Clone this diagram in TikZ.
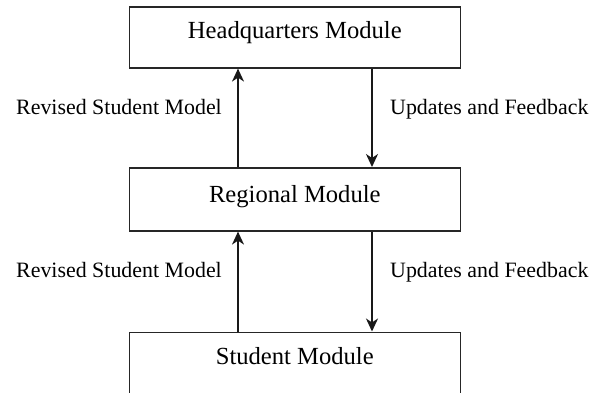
\documentclass[tikz,border=0pt]{standalone}
\usepackage{fontspec}
\setmainfont{Liberation Serif}
\usetikzlibrary{arrows.meta}
\begin{document}
\begin{tikzpicture}[x=1pt,y=-1pt,
  modbox/.style={draw=black!85, line width=1.6pt, minimum width=331pt, inner sep=0pt,
    font=\fontsize{24.6}{28}\selectfont, anchor=north west},
  lbl/.style={font=\fontsize{21.9}{26}\selectfont, anchor=base west, inner sep=0pt},
  conn/.style={line width=1.6pt, draw=black!90, -{Stealth[length=13pt,width=12pt,inset=4pt]}}
]
\useasboundingbox (0,0) rectangle (592,392);
% boxes
\node[modbox, minimum height=61pt, text height=13.5pt, text depth=10.5pt] (hq) at (128.5,6) {Headquarters Module};
\node[modbox, minimum height=63pt, text height=16pt, text depth=10pt] (reg) at (128.5,167) {Regional Module};
\node[modbox, minimum height=61pt, text height=14pt, text depth=10pt] (stu) at (128.5,331.5) {Student Module};
% connectors
\coordinate (a1) at (238,0);
\coordinate (a2) at (372,0);
\draw[conn] (reg.north -| a1) -- (hq.south -| a1);
\draw[conn] (hq.south -| a2) -- (reg.north -| a2);
\draw[conn] (stu.north -| a1) -- (reg.south -| a1);
\draw[conn] (reg.south -| a2) -- (stu.north -| a2);
% labels
\node[lbl] (l1) at (16,114) {Revised Student Model};
\node[lbl] (r1) at (390,114) {Updates and Feedback};
\node[lbl] (l2) at (16,277.5) {Revised Student Model};
\node[lbl] (r2) at (390,277.5) {Updates and Feedback};
\end{tikzpicture}
\end{document}
